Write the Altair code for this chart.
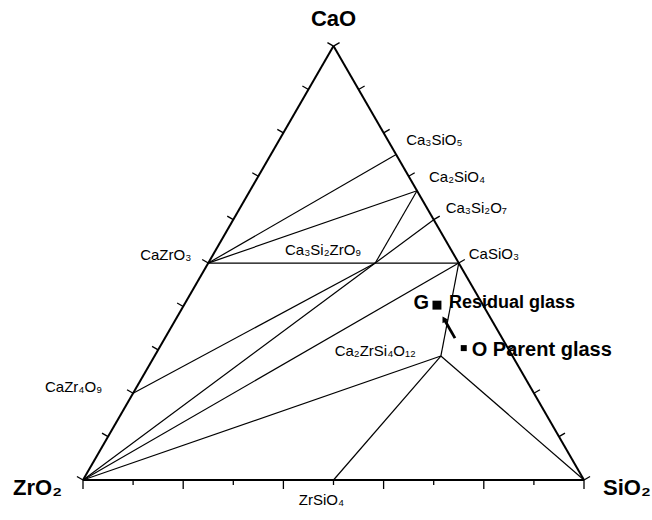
import math
import altair as alt
import pandas as pd

# ---------------- data: compositions (mole fractions) ----------------
compound_names = ["CaO", "SiO2", "ZrO2", "Ca3SiO5", "Ca2SiO4", "Ca3Si2O7", "CaSiO3",
                  "CaZrO3", "CaZr4O9", "Ca3Si2ZrO9", "Ca2ZrSi4O12", "ZrSiO4"]
compound_labels = ["CaO", "SiO₂", "ZrO₂", "Ca₃SiO₅", "Ca₂SiO₄", "Ca₃Si₂O₇", "CaSiO₃",
                   "CaZrO₃", "CaZr₄O₉", "Ca₃Si₂ZrO₉", "Ca₂ZrSi₄O₁₂", "ZrSiO₄"]
cao_frac = [1, 0, 0, 3/4, 2/3, 3/5, 1/2, 1/2, 1/5, 3/6, 2/7, 0]
sio2_frac = [0, 1, 0, 1/4, 1/3, 2/5, 1/2, 0, 0, 2/6, 4/7, 1/2]

tie_lines = [("CaZrO3", "Ca3SiO5"), ("CaZrO3", "Ca2SiO4"), ("CaZrO3", "CaSiO3"),
             ("Ca2SiO4", "Ca3Si2ZrO9"), ("Ca3Si2ZrO9", "Ca3Si2O7"),
             ("Ca3Si2ZrO9", "CaZr4O9"), ("Ca3Si2ZrO9", "ZrO2"), ("CaSiO3", "ZrO2"),
             ("CaSiO3", "Ca2ZrSi4O12"), ("Ca2ZrSi4O12", "ZrO2"),
             ("Ca2ZrSi4O12", "ZrSiO4"), ("Ca2ZrSi4O12", "SiO2")]
edges = [("ZrO2", "CaO"), ("ZrO2", "SiO2"), ("SiO2", "CaO")]

tick_fracs = [i / 10 for i in range(11)]

glass_names = ["Residual glass", "Parent glass"]
glass_cao = [0.403, 0.304]
glass_sio2 = [0.505, 0.608]

arrow_cao = [0.327, 0.371]    # tail, head
arrow_sio2 = [0.579, 0.535]

# ---------------- geometry helpers ----------------
H = math.sqrt(3) / 2


def tern(c, s):
    return s + c / 2, c * H


pts = {n: tern(c, s) for n, c, s in zip(compound_names, cao_frac, sio2_frac)}
UNIT = 501.0  # pixels per ternary unit (for tick lengths)


def seg_df(pairs):
    rows = []
    for a, b in pairs:
        rows.append({"x": pts[a][0], "y": pts[a][1], "x2": pts[b][0], "y2": pts[b][1]})
    return pd.DataFrame(rows)


tick_rows = []
for f in tick_fracs:
    L = 7 / UNIT
    bx, by = tern(f, 0)          # left edge (ZrO2 -> CaO)
    tick_rows.append({"x": bx, "y": by, "x2": bx - H * L, "y2": by + 0.5 * L})
    bx, by = tern(f, 1 - f)      # right edge (SiO2 -> CaO)
    tick_rows.append({"x": bx, "y": by, "x2": bx + H * L, "y2": by + 0.5 * L})
    bx, by = tern(0, f)          # bottom edge (ZrO2 -> SiO2)
    Lb = (9 if round(f * 10) % 2 == 0 else 5) / UNIT
    tick_rows.append({"x": bx, "y": by, "x2": bx, "y2": by - Lb})
ticks_df = pd.DataFrame(tick_rows)

xs = alt.Scale(domain=[-83 / UNIT, 569 / UNIT], nice=False, zero=False)
ys = alt.Scale(domain=[-40 / UNIT, 480 / UNIT], nice=False, zero=False)


def rules(df, width):
    return alt.Chart(df).mark_rule(color="black", strokeWidth=width).encode(
        x=alt.X("x:Q", scale=xs, axis=None),
        y=alt.Y("y:Q", scale=ys, axis=None),
        x2="x2:Q", y2="y2:Q")


FONT = "Liberation Sans"


def label(x, y, text, dx, dy, align, size, bold=False):
    df = pd.DataFrame([{"x": x, "y": y, "t": text}])
    return alt.Chart(df).mark_text(
        dx=dx, dy=dy, align=align, baseline="middle", fontSize=size, font=FONT,
        fontWeight="bold" if bold else "normal", color="black").encode(
        x=alt.X("x:Q", scale=xs, axis=None),
        y=alt.Y("y:Q", scale=ys, axis=None),
        text="t:N")


lab = dict(zip(compound_names, compound_labels))


def clabel(name, dx, dy, align, size=15, bold=False):
    return label(pts[name][0], pts[name][1], lab[name], dx, dy, align, size, bold)


layers = [
    rules(seg_df(edges), 2),
    rules(ticks_df, 1.3),
    rules(seg_df(tie_lines), 1.2),
    clabel("CaO", 0, -27, "center", 22, True),
    clabel("ZrO2", -21, 8, "right", 22, True),
    clabel("SiO2", 19, 8, "left", 22, True),
    clabel("Ca3SiO5", 10, -15, "left"),
    clabel("Ca2SiO4", 12, -14, "left"),
    clabel("Ca3Si2O7", 12, -12, "left"),
    clabel("CaSiO3", 10, -9, "left"),
    clabel("Ca3Si2ZrO9", -14, -13, "right"),
    clabel("CaZrO3", -17, -8, "right"),
    clabel("CaZr4O9", -31, -6, "right"),
    clabel("Ca2ZrSi4O12", -25, -5, "right"),
    clabel("ZrSiO4", -12, 20, "center"),
]

gx, gy = tern(glass_cao[0], glass_sio2[0])
px, py = tern(glass_cao[1], glass_sio2[1])
glass_df = pd.DataFrame({"x": [gx, px], "y": [gy, py], "name": glass_names})
layers.append(
    alt.Chart(glass_df).mark_point(shape="square", filled=True, color="black", opacity=1).encode(
        x=alt.X("x:Q", scale=xs, axis=None),
        y=alt.Y("y:Q", scale=ys, axis=None),
        size=alt.Size("name:N", scale=alt.Scale(domain=glass_names, range=[80, 36]), legend=None)))

ax0, ay0 = tern(arrow_cao[0], arrow_sio2[0])
ax1, ay1 = tern(arrow_cao[1], arrow_sio2[1])
layers.append(rules(pd.DataFrame([{"x": ax0, "y": ay0, "x2": ax1, "y2": ay1}]), 2.8))
layers.append(
    alt.Chart(pd.DataFrame([{"x": ax1, "y": ay1}])).mark_point(
        shape="triangle-up", filled=True, color="black", opacity=1, size=45, angle=330).encode(
        x=alt.X("x:Q", scale=xs, axis=None),
        y=alt.Y("y:Q", scale=ys, axis=None)))

layers += [
    label(gx, gy, "G", -8, -2, "right", 20, True),
    label(gx, gy, "Residual glass", 12, -2, "left", 18, True),
    label(px, py, "O Parent glass", 8, 2, "left", 20, True),
]

chart = alt.layer(*layers).properties(
    width=652, height=520, padding=0, autosize="none", background="white"
).configure_view(stroke=None)

chart.save("out.html", embed_options={"renderer": "svg", "actions": False})
